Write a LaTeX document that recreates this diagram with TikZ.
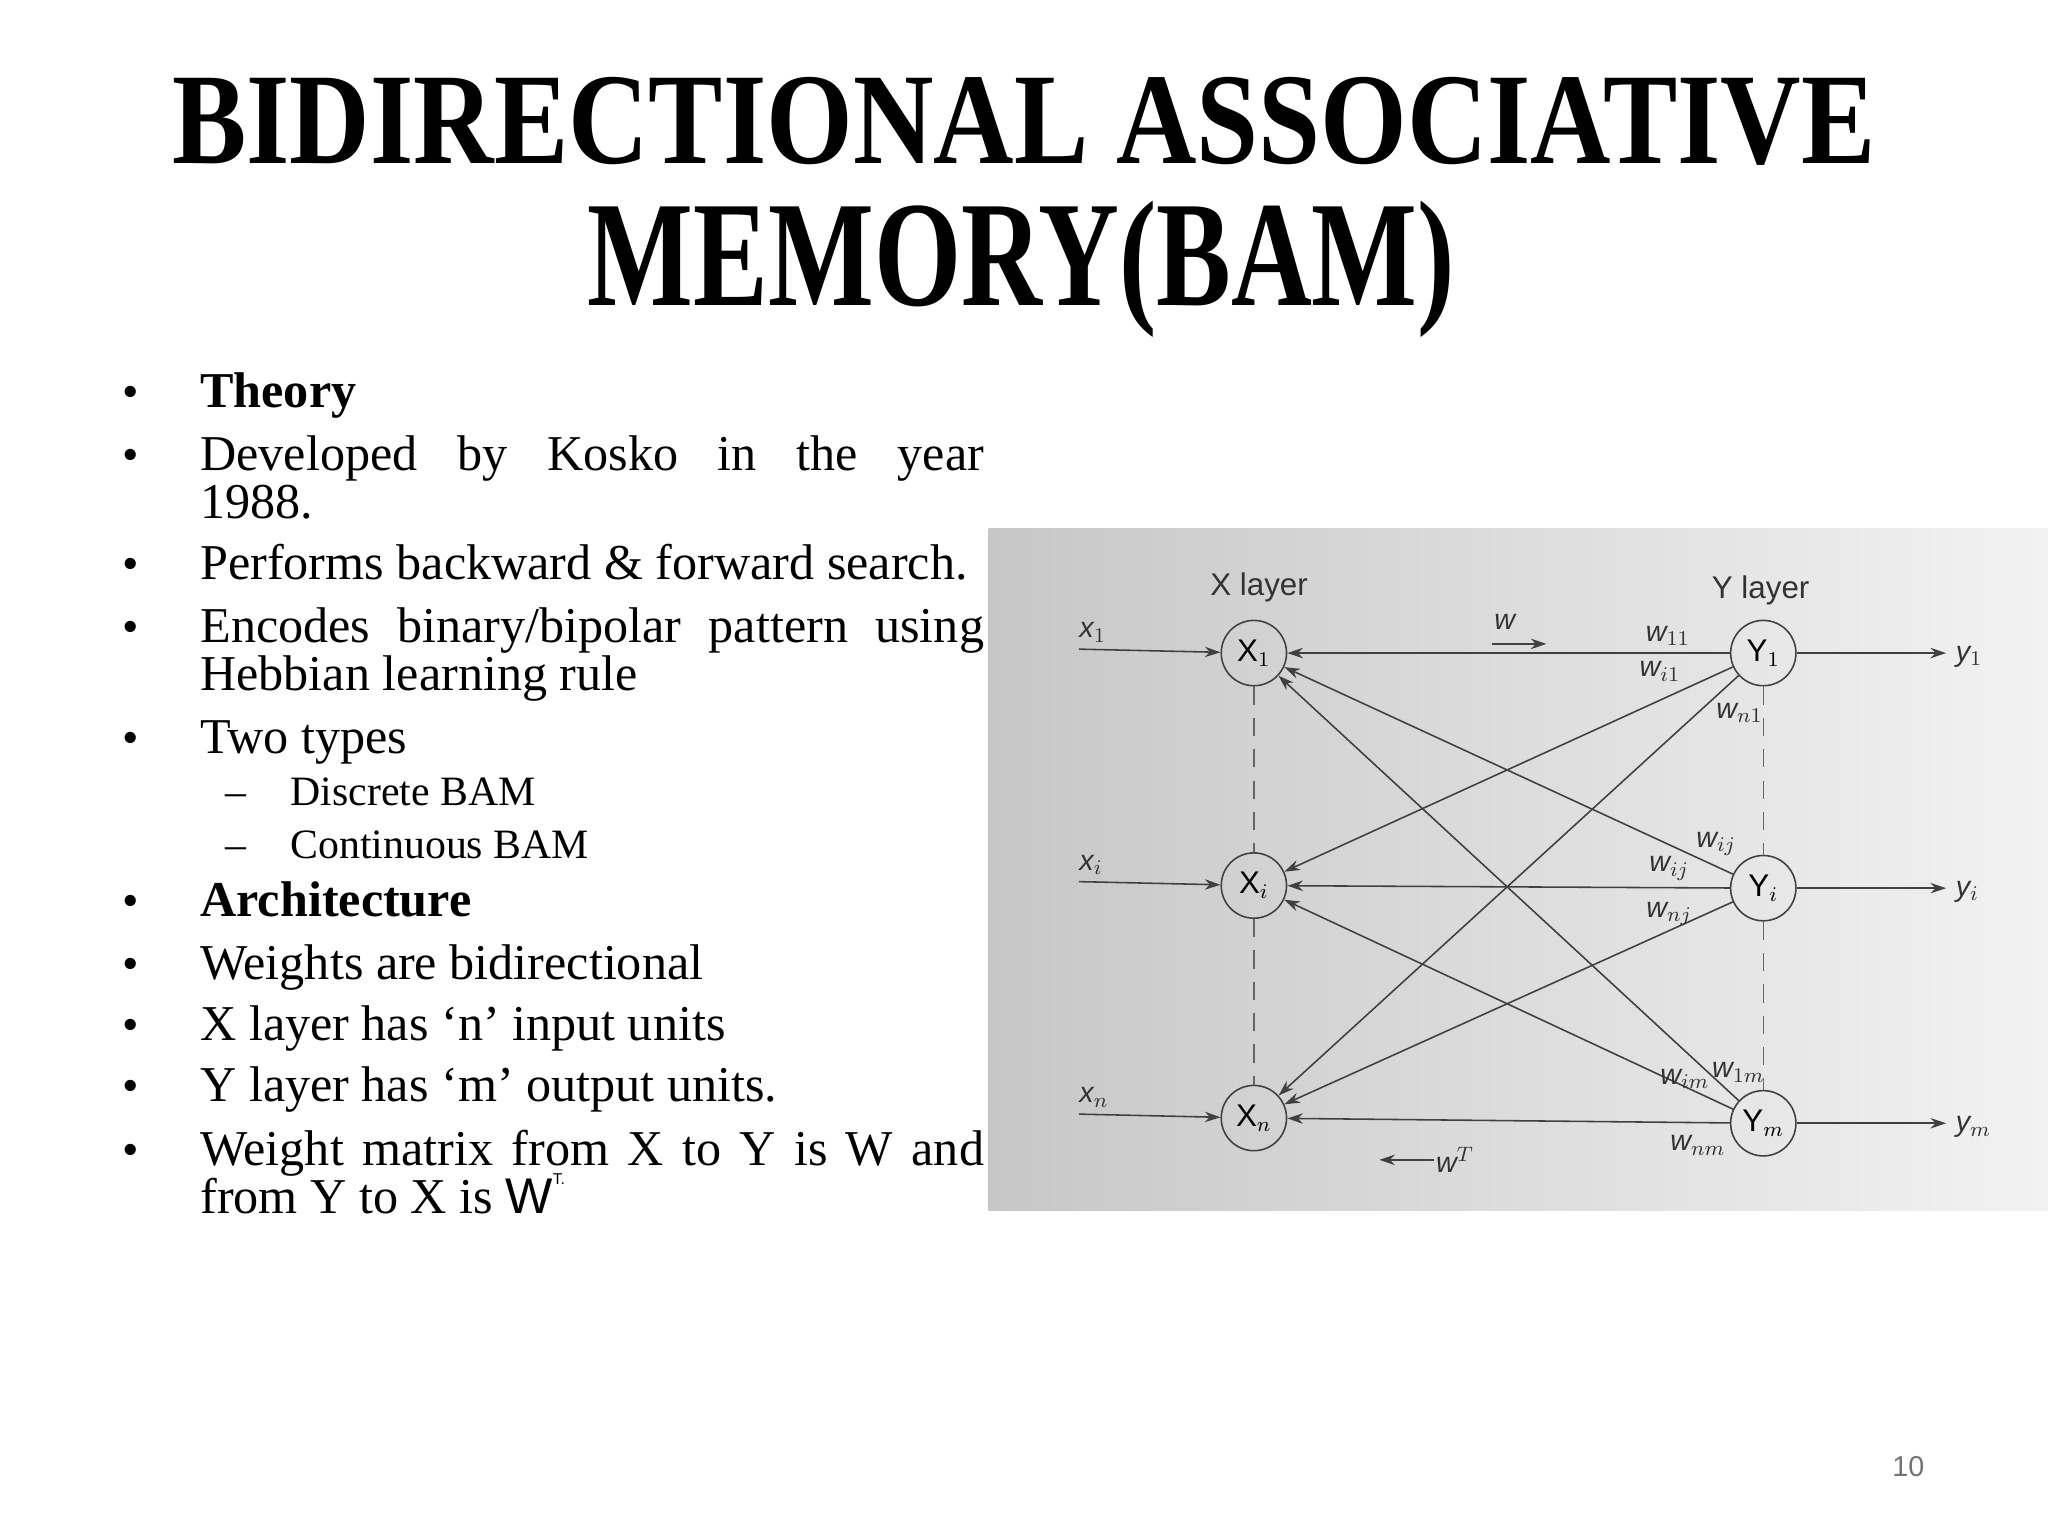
\documentclass[tikz,border=0pt]{standalone}
\usepackage{fontspec}
\setmainfont{Liberation Serif}
\newfontfamily\dsans{Liberation Sans}
\usetikzlibrary{arrows.meta}
\begin{document}
\begin{tikzpicture}[x=0.5pt,y=-0.5pt,
 btext/.style={anchor=base west,inner sep=0pt,font=\fontsize{19.2}{18.5}\selectfont},
 stext/.style={anchor=base west,inner sep=0pt,font=\fontsize{16}{16}\selectfont},
 bul/.style={anchor=base,inner sep=0pt,font=\fontsize{18}{18.5}\selectfont},
 neuron/.style={circle,draw=black!75,line width=0.6pt,minimum size=25pt,inner sep=0pt,font=\dsans\fontsize{12}{12}\selectfont},
 conn/.style={draw=black!75,line width=0.6pt,-{Stealth[length=6pt,width=4pt]}},
 lab/.style={font=\dsans\itshape\fontsize{11}{11}\selectfont,inner sep=0pt,text=black!80},
 dsh/.style={draw=black!60,line width=0.5pt,dash pattern=on 7pt off 5pt}]
\useasboundingbox (0,0) rectangle (1568,1176);
\fill[white] (0,0) rectangle (1568,1176);
% title
\node (t1) at (784,93) {\resizebox{652pt}{33pt}{\bfseries BIDIRECTIONAL ASSOCIATIVE}};
\node (t2) at (782,206) {\resizebox{332pt}{40pt}{\bfseries MEMORY(BAM)}};
% bullets
\foreach \y in {312,360,444,492,577,702,750,797,843,892}{\node[bul] at (100,\y) {•};}
\node[btext] (b1) at (153,312) {\bfseries Theory};
\node[btext] (b2) at (153,360) {\hbox to 300pt{Developed\hfill by\hfill Kosko\hfill in\hfill the\hfill year}};
\node[btext] (b2b) at (153,397) {1988.};
\node[btext] (b3) at (153,444) {Performs backward \& forward search.};
\node[btext] (b4) at (153,492) {\hbox to 300pt{Encodes\hfill binary/bipolar\hfill pattern\hfill using}};
\node[btext] (b4b) at (153,529) {Hebbian learning rule};
\node[btext] (b5) at (153,577) {Two types};
\node[stext] at (172,617) {–};
\node[stext] (b6) at (222,617) {Discrete BAM};
\node[stext] at (172,657) {–};
\node[stext] (b7) at (222,657) {Continuous BAM};
\node[btext] (b8) at (153,702) {\bfseries Architecture};
\node[btext] (b9) at (153,750) {Weights are bidirectional};
\node[btext] (b10) at (153,797) {X layer has ‘n’ input units};
\node[btext] (b11) at (153,843) {Y layer has ‘m’ output units.};
\node[btext] (b12) at (153,892) {\hbox to 300pt{Weight\hfill matrix\hfill from\hfill X\hfill to\hfill Y\hfill is\hfill W\hfill and}};
\node[btext] (b12b) at (153,929) {from Y to X is {\dsans W\raisebox{1.1ex}{\fontsize{6}{6}\selectfont T.}}};
\node[font=\dsans\fontsize{11}{11}\selectfont,text=black!55] (pg) at (1461,1123) {10};
% diagram background
\shade[left color=black!22,right color=black!5] (757,405) rectangle (1568,927);
\node[neuron] (X1) at (960,500) {X$_1$};
\node[neuron] (Xi) at (960,678) {X$_i$};
\node[neuron] (Xn) at (960,856) {X$_n$};
\node[neuron] (Y1) at (1350,500) {Y$_1$};
\node[neuron] (Yi) at (1350,680) {Y$_i$};
\node[neuron] (Ym) at (1350,860) {Y$_m$};
\draw[dsh] (X1) -- (Xi); \draw[dsh] (Xi) -- (Xn);
\draw[dsh] (Y1) -- (Yi); \draw[dsh] (Yi) -- (Ym);
\node[lab,font=\dsans\fontsize{12}{12}\selectfont] (xl) at (964,450) {X layer};
\node[lab,font=\dsans\fontsize{12}{12}\selectfont] (yl) at (1348,452) {Y layer};
\coordinate (i1) at (826,497); \coordinate (ii) at (826,675); \coordinate (in) at (826,853);
\node[lab,anchor=south west] at (826,492) {x$_1$};
\node[lab,anchor=south west] at (826,670) {x$_i$};
\node[lab,anchor=south west] at (826,848) {x$_n$};
\draw[conn] (i1) -- (X1); \draw[conn] (ii) -- (Xi); \draw[conn] (in) -- (Xn);
\coordinate (o1) at (1490,500); \coordinate (oi) at (1490,680); \coordinate (om) at (1490,860);
\draw[conn] (Y1) -- (o1); \draw[conn] (Yi) -- (oi); \draw[conn] (Ym) -- (om);
\node[lab,anchor=west] at (1497,503) {y$_1$};
\node[lab,anchor=west] at (1497,683) {y$_i$};
\node[lab,anchor=west] at (1497,863) {y$_m$};
\foreach \a in {Y1,Yi,Ym}{\foreach \b in {X1,Xi,Xn}{\draw[conn] (\a) -- (\b);}}
\coordinate (wa) at (1142,493); \coordinate (wb) at (1184,493);
\draw[conn] (wa) -- (wb); \node[lab] at (1152,476) {w};
\coordinate (ta) at (1098,888); \coordinate (tb) at (1056,888);
\draw[conn] (ta) -- (tb); \node[lab] at (1114,888) {w$^T$};
\node[lab] at (1277,487) {w$_{11}$};
\node[lab] at (1271,514) {w$_{i1}$};
\node[lab] at (1332,546) {w$_{n1}$};
\node[lab] at (1314,646) {w$_{ij}$};
\node[lab] at (1278,665) {w$_{ij}$};
\node[lab] at (1278,700) {w$_{nj}$};
\node[lab] at (1290,826) {w$_{im}$};
\node[lab] at (1331,821) {w$_{1m}$};
\node[lab] at (1300,877) {w$_{nm}$};
\end{tikzpicture}
\end{document}
